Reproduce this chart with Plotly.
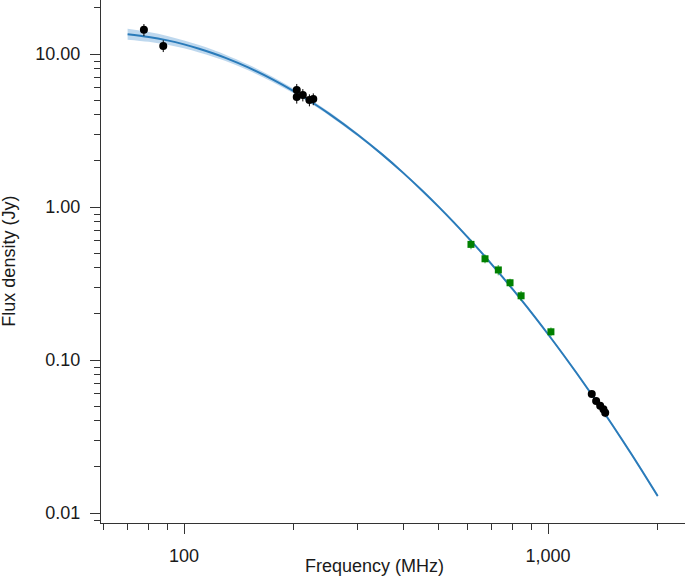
import plotly.graph_objects as go

# ---- data ----
fit_freq = [70, 80, 90, 100, 110, 120, 130, 150, 175, 200, 225, 250, 300, 350, 400, 450, 500, 550,
            600, 650, 700, 750, 800, 900, 1000, 1100, 1200, 1300, 1400, 1500, 1600, 1700, 1800, 1900, 2000]
fit_flux = [13.48, 12.94, 12.28, 11.56, 10.83, 10.12, 9.436, 8.175, 6.834, 5.728, 4.822, 4.082, 2.970, 2.208,
            1.672, 1.287, 1.006, 0.7964, 0.6378, 0.5167, 0.4223, 0.3482, 0.2893, 0.2041, 0.1474, 0.1087,
            0.08163, 0.06232, 0.04819, 0.03775, 0.02991, 0.02394, 0.01932, 0.01574, 0.01292]
fit_upper = [14.64, 13.93, 13.13, 12.27, 11.46, 10.67, 9.903, 8.540, 7.107, 5.929, 4.974, 4.196, 3.039, 2.254,
             1.703, 1.309, 1.022, 0.8094, 0.6482, 0.5251, 0.4292, 0.3539, 0.2940, 0.2074, 0.1498, 0.1106,
             0.08315, 0.06348, 0.04909, 0.03850, 0.03054, 0.02447, 0.01977, 0.01611, 0.01322]
fit_lower = [12.41, 12.02, 11.49, 10.89, 10.24, 9.60, 8.991, 7.825, 6.572, 5.534, 4.674, 3.971, 2.902, 2.163,
             1.641, 1.265, 0.990, 0.7836, 0.6276, 0.5084, 0.4155, 0.3426, 0.2847, 0.2008, 0.1450, 0.1068,
             0.08014, 0.06118, 0.04731, 0.03702, 0.02929, 0.02342, 0.01888, 0.01538, 0.01263]

black_freq = [77.6, 87.7, 204, 204, 212, 221, 226.5, 1318, 1355, 1390, 1419, 1435]
black_flux = [14.4, 11.3, 5.82, 5.24, 5.40, 5.00, 5.08, 0.060, 0.054, 0.0502, 0.0476, 0.0453]
black_err = [1.3, 1.0, 0.55, 0.5, 0.5, 0.45, 0.45, 0.002, 0.002, 0.002, 0.002, 0.003]

green_freq = [614, 671, 730, 786, 843, 1018]
green_flux = [0.570, 0.459, 0.388, 0.320, 0.263, 0.153]
green_err = [0.04, 0.03, 0.03, 0.02, 0.02, 0.01]

x_tickvals = [100, 1000]
x_ticktext = ["100", "1,000"]
x_minor = [60, 70, 80, 90, 200, 300, 400, 500, 600, 700, 800, 900, 2000]
y_tickvals = [0.01, 0.1, 1, 10]
y_ticktext = ["0.01", "0.10", "1.00", "10.00"]
y_minor = [0.009, 0.02, 0.03, 0.04, 0.05, 0.06, 0.07, 0.08, 0.09,
           0.2, 0.3, 0.4, 0.5, 0.6, 0.7, 0.8, 0.9,
           2, 3, 4, 5, 6, 7, 8, 9, 20]

FONT = "Liberation Sans, Arial, Helvetica, sans-serif"
LINE_BLUE = "#2a7bba"
BAND = "rgba(125,178,222,0.5)"

fig = go.Figure()

fig.add_trace(go.Scatter(x=fit_freq, y=fit_lower, mode="lines",
                         line=dict(width=0, shape="spline", color=BAND),
                         showlegend=False, hoverinfo="skip"))
fig.add_trace(go.Scatter(x=fit_freq, y=fit_upper, mode="lines", fill="tonexty",
                         fillcolor=BAND, line=dict(width=0, shape="spline", color=BAND),
                         showlegend=False, hoverinfo="skip"))
fig.add_trace(go.Scatter(x=fit_freq, y=fit_flux, mode="lines",
                         line=dict(width=2, shape="spline", color=LINE_BLUE),
                         showlegend=False))

fig.add_trace(go.Scatter(x=green_freq, y=green_flux, mode="markers",
                         marker=dict(symbol="square", size=7, color="#008000"),
                         error_y=dict(type="data", array=green_err, width=0,
                                      thickness=1.5, color="rgba(0,150,0,0.55)"),
                         showlegend=False))
fig.add_trace(go.Scatter(x=black_freq, y=black_flux, mode="markers",
                         marker=dict(symbol="circle", size=8, color="black"),
                         error_y=dict(type="data", array=black_err, width=0,
                                      thickness=1, color="black"),
                         showlegend=False))

axis_common = dict(
    type="log", showline=True, linecolor="#333", linewidth=1.3,
    ticks="outside", ticklen=10, tickwidth=1.3, tickcolor="#333",
    showgrid=False, zeroline=False, mirror=False, automargin=False,
    tickfont=dict(family=FONT, size=18, color="#1a1a1a"),
    ticklabelstandoff=6,
)

fig.update_xaxes(**axis_common, range=[1.772, 3.376],
                 tickmode="array", tickvals=x_tickvals, ticktext=x_ticktext,
                 minor=dict(tickmode="array", tickvals=x_minor, ticks="outside",
                            ticklen=6, tickwidth=1.3, tickcolor="#333", showgrid=False))
fig.update_yaxes(**axis_common, range=[-2.065, 1.353],
                 tickmode="array", tickvals=y_tickvals, ticktext=y_ticktext,
                 minor=dict(tickmode="array", tickvals=y_minor, ticks="outside",
                            ticklen=6, tickwidth=1.3, tickcolor="#333", showgrid=False))

fig.update_layout(
    width=685, height=577,
    margin=dict(l=101, r=0, t=0, b=54, autoexpand=False),
    paper_bgcolor="white", plot_bgcolor="white",
    showlegend=False,
    annotations=[
        dict(text="Frequency (MHz)", xref="paper", yref="paper",
             x=0.469, y=-0.082, xanchor="center", yanchor="middle",
             showarrow=False, font=dict(family=FONT, size=18, color="#1a1a1a")),
        dict(text="Flux density (Jy)", xref="paper", yref="paper",
             x=-0.159, y=0.5, xanchor="center", yanchor="middle", textangle=-90,
             showarrow=False, font=dict(family=FONT, size=18, color="#1a1a1a")),
    ],
)

fig.write_html(
    "out.html",
    config={"displayModeBar": False},
    post_script="document.body.style.margin='0';document.body.style.overflow='hidden';",
)
